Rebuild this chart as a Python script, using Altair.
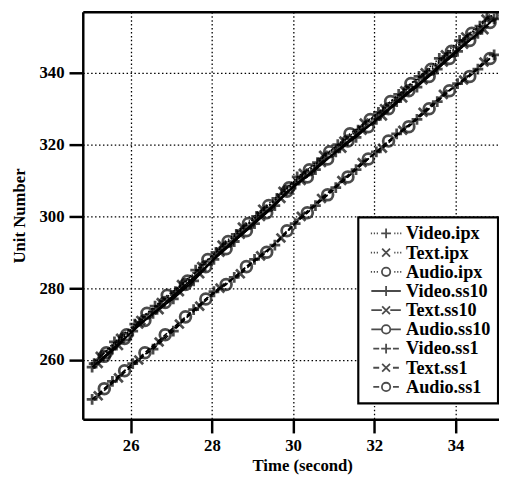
import altair as alt
import pandas as pd

SERIES = ["Video.ipx", "Text.ipx", "Audio.ipx",
          "Video.ss10", "Text.ss10", "Audio.ss10",
          "Video.ss1", "Text.ss1", "Audio.ss1"]

# ---- readings (time in seconds, unit number) ----
video_ipx_t = [25.1, 25.6, 26.1, 26.6, 27.1, 27.6, 28.1, 28.6, 29.1, 29.6, 30.1, 30.6, 31.1, 31.6, 32.1, 32.6, 33.1, 33.6, 34.1, 34.6]
video_ipx_u = [259, 265, 270, 275, 279, 285, 290, 295, 300, 305, 311, 315, 320, 324, 329, 334, 339, 344, 349, 353]
text_ipx_t = [25.25, 25.75, 26.25, 26.75, 27.25, 27.75, 28.25, 28.75, 29.25, 29.75, 30.25, 30.75, 31.25, 31.75, 32.25, 32.75, 33.25, 33.75, 34.25, 34.75]
text_ipx_u = [261, 266, 271, 276, 281, 286, 292, 297, 302, 307, 312, 317, 321, 326, 330, 335, 340, 345, 350, 355]
audio_ipx_t = [25.4, 25.9, 26.4, 26.9, 27.4, 27.9, 28.4, 28.9, 29.4, 29.9, 30.4, 30.9, 31.4, 31.9, 32.4, 32.9, 33.4, 33.9, 34.4, 34.9]
audio_ipx_u = [262, 267, 273, 278, 282, 288, 293, 298, 303, 308, 313, 318, 323, 327, 332, 337, 341, 346, 351, 356]

video_ss10_t = [25.05, 25.55, 26.05, 26.55, 27.05, 27.55, 28.05, 28.55, 29.05, 29.55, 30.05, 30.55, 31.05, 31.55, 32.05, 32.55, 33.05, 33.55, 34.05, 34.55, 34.95]
video_ss10_u = [258, 263, 268, 273, 277, 282, 288, 293, 298, 303, 309, 313, 318, 322, 327, 332, 336, 341, 346, 351, 355]
text_ss10_t = [25.2, 25.7, 26.2, 26.7, 27.2, 27.7, 28.2, 28.7, 29.2, 29.7, 30.2, 30.7, 31.2, 31.7, 32.2, 32.7, 33.2, 33.7, 34.2, 34.7]
text_ss10_u = [259, 264, 270, 274, 279, 284, 290, 295, 300, 305, 310, 315, 319, 324, 328, 333, 338, 343, 348, 352]
audio_ss10_t = [25.35, 25.85, 26.35, 26.85, 27.35, 27.85, 28.35, 28.85, 29.35, 29.85, 30.35, 30.85, 31.35, 31.85, 32.35, 32.85, 33.35, 33.85, 34.35, 34.85]
audio_ss10_u = [261, 266, 271, 276, 281, 286, 291, 296, 301, 307, 311, 316, 321, 325, 330, 335, 339, 344, 349, 354]

video_ss1_t = [25.05, 25.55, 26.05, 26.55, 27.05, 27.55, 28.05, 28.55, 29.05, 29.55, 30.05, 30.55, 31.05, 31.55, 32.05, 32.55, 33.05, 33.55, 34.05, 34.55, 34.95]
video_ss1_u = [249, 254, 259, 263, 268, 274, 279, 283, 288, 292, 298, 303, 308, 313, 318, 323, 327, 332, 337, 341, 345]
text_ss1_t = [25.2, 25.7, 26.2, 26.7, 27.2, 27.7, 28.2, 28.7, 29.2, 29.7, 30.2, 30.7, 31.2, 31.7, 32.2, 32.7, 33.2, 33.7, 34.2, 34.7]
text_ss1_u = [250, 255, 260, 265, 270, 275, 280, 284, 289, 294, 300, 305, 310, 315, 319, 324, 329, 334, 338, 343]
audio_ss1_t = [25.35, 25.85, 26.35, 26.85, 27.35, 27.85, 28.35, 28.85, 29.35, 29.85, 30.35, 30.85, 31.35, 31.85, 32.35, 32.85, 33.35, 33.85, 34.35, 34.85]
audio_ss1_u = [252, 257, 262, 267, 272, 277, 281, 286, 290, 296, 301, 306, 311, 316, 321, 325, 330, 335, 339, 344]

x_ticks = [26, 28, 30, 32, 34]
y_ticks = [260, 280, 300, 320, 340]

pairs = {
    "Video.ipx": (video_ipx_t, video_ipx_u),
    "Text.ipx": (text_ipx_t, text_ipx_u),
    "Audio.ipx": (audio_ipx_t, audio_ipx_u),
    "Video.ss10": (video_ss10_t, video_ss10_u),
    "Text.ss10": (text_ss10_t, text_ss10_u),
    "Audio.ss10": (audio_ss10_t, audio_ss10_u),
    "Video.ss1": (video_ss1_t, video_ss1_u),
    "Text.ss1": (text_ss1_t, text_ss1_u),
    "Audio.ss1": (audio_ss1_t, audio_ss1_u),
}
rows = []
for s in SERIES:
    ts, us = pairs[s]
    for t, u in zip(ts, us):
        rows.append({"t": t, "u": u, "series": s})
df = pd.DataFrame(rows)

# ---- styles ----
PLUS = "M-1,0L1,0M0,-1L0,1"
XMARK = "M-0.8,-0.8L0.8,0.8M-0.8,0.8L0.8,-0.8"
CIRC = "M0.85,0A0.85,0.85 0 1,1 -0.85,0A0.85,0.85 0 1,1 0.85,0Z"
marker_range = [PLUS, XMARK, "circle"] * 3

DOT_L = "M-3.1,0L-2.85,0M-2.5,0L-2.25,0M-1.9,0L-1.65,0"
DOT_R = "M1.65,0L1.9,0M2.25,0L2.5,0M2.85,0L3.1,0"
SOL_L = "M-3,0L-0.85,0"
SOL_R = "M0.85,0L3,0"
DSH_L = "M-2.6,0L-1.4,0"
DSH_R = "M1.4,0L2.6,0"
legend_range = []
for (l, r) in [(DOT_L, DOT_R), (SOL_L, SOL_R), (DSH_L, DSH_R)]:
    legend_range += [l + r + PLUS, l + r + XMARK, l + r + CIRC]

dash_range = [[1.5, 2.5]] * 3 + [[1, 0]] * 3 + [[5, 3]] * 3

FONT = "Liberation Serif"

x_scale = alt.Scale(domain=[24.82, 35.07], nice=False, zero=False)
y_scale = alt.Scale(domain=[243.5, 357], nice=False, zero=False)

lines = alt.Chart(df).mark_line(color="black", strokeWidth=1.6, clip=True).encode(
    x=alt.X("t:Q", scale=x_scale,
            axis=alt.Axis(values=x_ticks, title="Time (second)", titleX=223, titlePadding=4)),
    y=alt.Y("u:Q", scale=y_scale,
            axis=alt.Axis(values=y_ticks, title="Unit Number", titlePadding=11)),
    detail="series:N",
    strokeDash=alt.StrokeDash("series:N", scale=alt.Scale(domain=SERIES, range=dash_range), legend=None),
)

points = alt.Chart(df).mark_point(color="black", filled=False, size=120, strokeWidth=2.8, clip=True).encode(
    x=alt.X("t:Q", axis=alt.Axis(orient="top", labels=False, ticks=False, grid=False, title=None,
                                 domainWidth=2.5)),
    y=alt.Y("u:Q", axis=None),
    shape=alt.Shape("series:N", scale=alt.Scale(domain=SERIES, range=marker_range), legend=None),
)

legend_layer = alt.Chart(df).transform_filter("datum.t < 0").mark_point(
    color="black", filled=False, size=100, strokeWidth=1.8
).encode(
    x=alt.X("t:Q", axis=None),
    y=alt.Y("u:Q", axis=None),
    shape=alt.Shape("series:N", scale=alt.Scale(domain=SERIES, range=legend_range),
                    legend=alt.Legend(title=None, orient="none", legendX=280, legendY=209,
                                      padding=7, rowPadding=0.5, symbolOffset=12, labelOffset=11,
                                      strokeColor="black", fillColor="white",
                                      labelFont=FONT, labelFontSize=18.5, labelFontWeight="bold",
                                      labelColor="black", labelLimit=300,
                                      symbolStrokeColor="black", symbolStrokeWidth=1.8)),
)

chart = alt.layer(lines, points, legend_layer).resolve_scale(
    shape="independent"
).resolve_axis(x="independent", y="independent").properties(
    width=423, height=414,
    autosize=alt.AutoSizeParams(type="none"),
    padding={"left": 76, "top": 0, "right": 0, "bottom": 60},
).configure_view(stroke=None).configure_axis(
    domainColor="black", domainWidth=2.5,
    tickColor="black", tickWidth=2.5, tickSize=14,
    labelFont=FONT, labelFontSize=17, labelColor="black", labelPadding=5, labelFontWeight="bold",
    titleFont=FONT, titleFontSize=17, titleColor="black", titleFontWeight="bold",
    gridColor="black", gridDash=[1.5, 2.5], gridWidth=1.3, gridOpacity=1,
).configure_legend(strokeWidth=2.2, cornerRadius=0)

chart.save("out.html", embed_options={"renderer": "svg", "actions": False})
